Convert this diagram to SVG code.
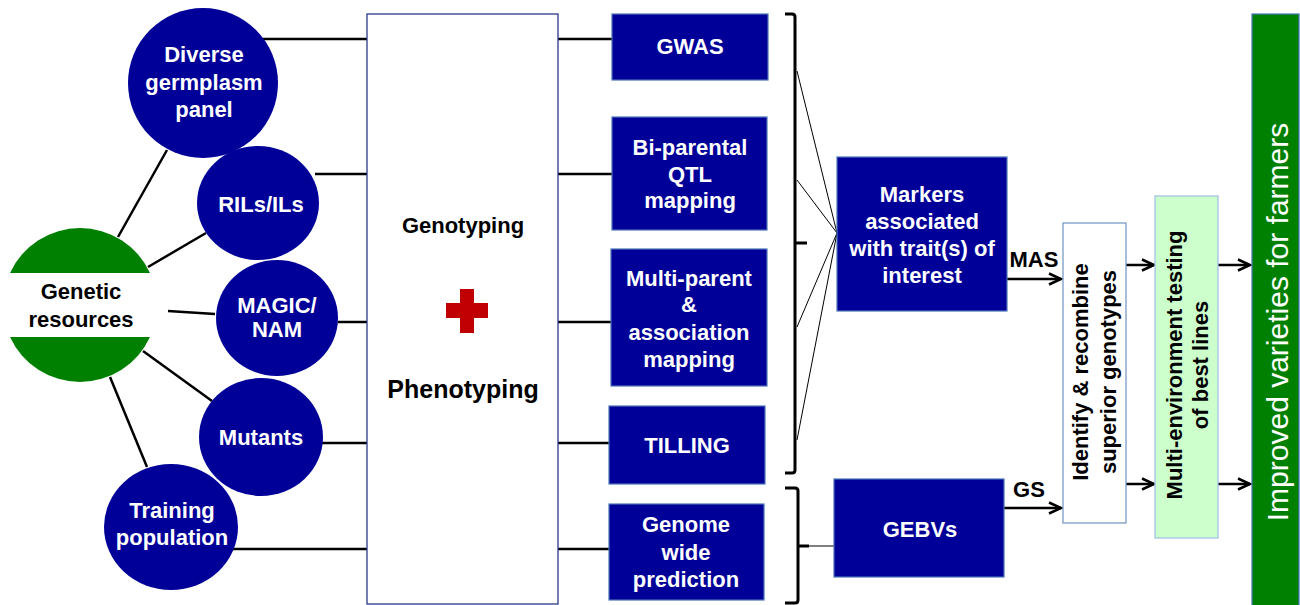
<svg xmlns="http://www.w3.org/2000/svg" width="1300" height="605" viewBox="0 0 1300 605">
<style>
text{font-family:"Liberation Sans",Arial,sans-serif;font-weight:bold;font-size:22px;text-anchor:middle}
.w{fill:#ffffff}
.k{fill:#000000}
.circ{fill:#000099}
.box{fill:#000099;stroke:#4a74b8;stroke-width:1.2}
.ln{stroke:#000;stroke-width:2.5;fill:none}
.thin{stroke:#000;stroke-width:1;fill:none}
.br{stroke:#000;stroke-width:3;fill:none;stroke-linejoin:round}
.ar{stroke:#000;stroke-width:2.5;fill:none;marker-end:url(#arr)}
</style>
<defs>
<marker id="arr" markerUnits="userSpaceOnUse" markerWidth="16" markerHeight="16" refX="13" refY="7" orient="auto">
<path d="M1,1.5 L13,7 L1,12.5" fill="none" stroke="#000" stroke-width="2.5"/>
</marker>
</defs>
<rect width="1300" height="605" fill="#ffffff"/>

<g id="connectors">
<line class="ln" x1="118" y1="237" x2="167" y2="150"/>
<line class="ln" x1="148" y1="267" x2="206" y2="233"/>
<line class="ln" x1="168" y1="311" x2="215" y2="314"/>
<line class="ln" x1="143" y1="351" x2="212" y2="401"/>
<line class="ln" x1="110" y1="377" x2="147" y2="467"/>
<line class="ln" x1="263" y1="39" x2="367" y2="39"/>
<line class="ln" x1="315" y1="174" x2="367" y2="174"/>
<line class="ln" x1="338" y1="322" x2="367" y2="322"/>
<line class="ln" x1="322" y1="443" x2="367" y2="443"/>
<line class="ln" x1="232" y1="549" x2="367" y2="549"/>
<line class="ln" x1="558" y1="39" x2="612" y2="39"/>
<line class="ln" x1="558" y1="174" x2="612" y2="174"/>
<line class="ln" x1="558" y1="322" x2="611" y2="322"/>
<line class="ln" x1="558" y1="443" x2="609" y2="443"/>
<line class="ln" x1="558" y1="549" x2="609" y2="549"/>
<path class="br" d="M785,14 L792,14 Q795,14 795,17 L795,243 L807,243 M795,243 L795,470 Q795,473 792,473 L785,473"/>
<path class="br" d="M785,488 L795,488 Q798,488 798,491 L798,546 L809,546 M798,546 L798,600 Q798,603 795,603 L785,603"/>
<line class="thin" x1="809" y1="546" x2="834" y2="546"/>
<line class="thin" x1="797" y1="71" x2="837" y2="233"/>
<line class="thin" x1="797" y1="180" x2="837" y2="233"/>
<line class="thin" x1="797" y1="327" x2="837" y2="233"/>
<line class="thin" x1="797" y1="440" x2="837" y2="233"/>
<line class="ar" x1="1007" y1="279" x2="1061" y2="279"/>
<line class="ar" x1="1004" y1="508" x2="1061" y2="508"/>
<line class="ar" x1="1126" y1="265" x2="1154" y2="265"/>
<line class="ar" x1="1126" y1="484" x2="1154" y2="484"/>
<line class="ar" x1="1218" y1="265" x2="1250" y2="265"/>
<line class="ar" x1="1218" y1="484" x2="1250" y2="484"/>
<text class="k" x="1034" y="267">MAS</text>
<text class="k" x="1029" y="497">GS</text>
</g>

<g id="genetic-resources">
<path d="M10,273 A77,77 0 0 1 150,273 Z" fill="#008000"/>
<path d="M10,337 A77,77 0 0 0 150,337 Z" fill="#008000"/>
<text class="k" x="81" y="299">Genetic</text>
<text class="k" x="81" y="327">resources</text>
</g>

<g id="diverse-germplasm">
<ellipse class="circ" cx="203" cy="83" rx="75" ry="75"/>
<text class="w" x="204" y="62">Diverse</text>
<text class="w" x="204" y="90">germplasm</text>
<text class="w" x="204" y="117">panel</text>
</g>
<g id="rils">
<ellipse class="circ" cx="258" cy="203" rx="61" ry="57"/>
<text class="w" x="261" y="212">RILs/ILs</text>
</g>
<g id="magic">
<ellipse class="circ" cx="277" cy="318" rx="61" ry="58"/>
<text class="w" x="277" y="313">MAGIC/</text>
<text class="w" x="277" y="337">NAM</text>
</g>
<g id="mutants">
<ellipse class="circ" cx="261" cy="437" rx="62" ry="59"/>
<text class="w" x="261" y="445">Mutants</text>
</g>
<g id="training">
<ellipse class="circ" cx="171" cy="527" rx="67" ry="63"/>
<text class="w" x="172" y="518">Training</text>
<text class="w" x="172" y="545">population</text>
</g>

<g id="geno-pheno">
<rect x="367" y="14" width="191" height="590" fill="#ffffff" stroke="#2a3a8c" stroke-width="1.3"/>
<text class="k" x="463" y="233">Genotyping</text>
<rect x="460" y="289" width="14" height="44" fill="#c00000"/>
<rect x="446" y="303" width="42" height="15" fill="#c00000"/>
<text class="k" x="463" y="398" style="font-size:25px">Phenotyping</text>
</g>

<g id="gwas">
<rect class="box" x="612" y="14" width="156" height="66"/>
<text class="w" x="690" y="54">GWAS</text>
</g>
<g id="biparental">
<rect class="box" x="612" y="117" width="155" height="113"/>
<text class="w" x="690" y="155">Bi-parental</text>
<text class="w" x="690" y="182">QTL</text>
<text class="w" x="690" y="208">mapping</text>
</g>
<g id="multiparent">
<rect class="box" x="611" y="249" width="156" height="137"/>
<text class="w" x="689" y="286">Multi-parent</text>
<text class="w" x="689" y="312">&amp;</text>
<text class="w" x="689" y="340">association</text>
<text class="w" x="689" y="367">mapping</text>
</g>
<g id="tilling">
<rect class="box" x="609" y="406" width="156" height="78"/>
<text class="w" x="687" y="453">TILLING</text>
</g>
<g id="genome-wide">
<rect class="box" x="609" y="504" width="155" height="96"/>
<text class="w" x="686" y="532">Genome</text>
<text class="w" x="686" y="560">wide</text>
<text class="w" x="686" y="587">prediction</text>
</g>

<g id="markers">
<rect class="box" x="837" y="157" width="170" height="154"/>
<text class="w" x="922" y="202">Markers</text>
<text class="w" x="922" y="229">associated</text>
<text class="w" x="922" y="256">with trait(s) of</text>
<text class="w" x="922" y="283">interest</text>
</g>
<g id="gebvs">
<rect class="box" x="834" y="479" width="170" height="98"/>
<text class="w" x="920" y="537">GEBVs</text>
</g>

<g id="identify">
<rect x="1063" y="223" width="63" height="300" fill="#ffffff" stroke="#7a9cc4" stroke-width="1.3"/>
<text class="k" transform="translate(1088,372) rotate(-90)">Identify &amp; recombine</text>
<text class="k" transform="translate(1116,372) rotate(-90)">superior genotypes</text>
</g>
<g id="multi-env">
<rect x="1155" y="196" width="63" height="342" fill="#ccffcc" stroke="#a3c4e3" stroke-width="1.3"/>
<text class="k" transform="translate(1182,365) rotate(-90)">Multi-environment testing</text>
<text class="k" transform="translate(1208,365) rotate(-90)">of best lines</text>
</g>
<g id="improved">
<rect x="1252" y="14" width="47" height="595" fill="#008000" stroke="#4a74b8" stroke-width="1.2"/>
<text class="w" transform="translate(1288,322) rotate(-90)" style="font-weight:normal;font-size:30px">Improved varieties for farmers</text>
</g>
</svg>
